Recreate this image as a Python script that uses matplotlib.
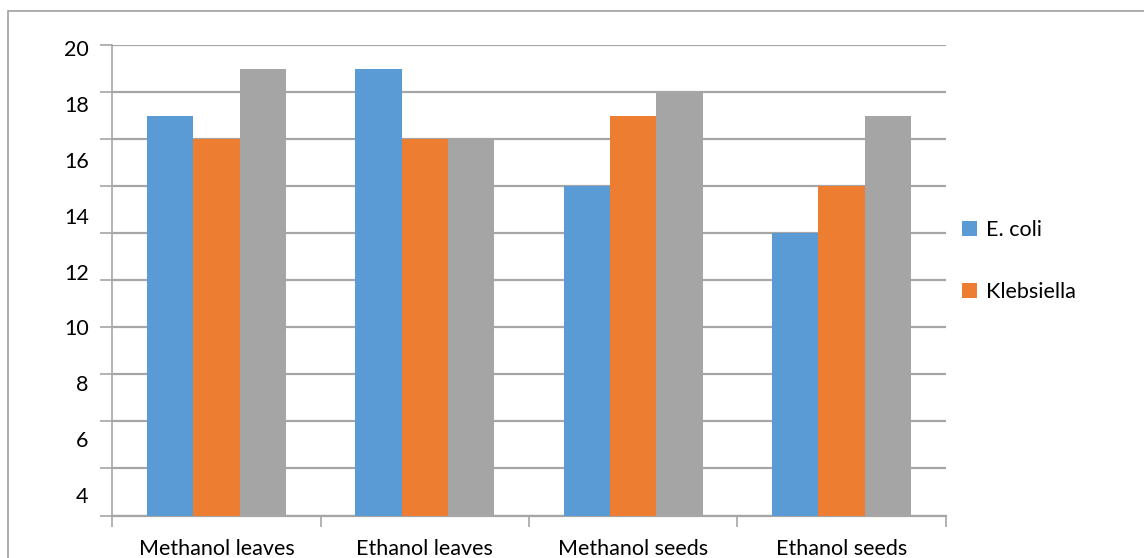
import matplotlib
matplotlib.use("Agg")
import matplotlib.pyplot as plt
from matplotlib.patches import Rectangle
import numpy as np

categories = ["Methanol leaves", "Ethanol leaves", "Methanol seeds", "Ethanol seeds"]
ecoli = [17, 19, 14, 12]
klebsiella = [16, 16, 17, 14]
third_series = [19, 16, 18, 17]
axis_labels = [4, 6, 8, 10, 12, 14, 16, 18, 20]

BLUE = "#5B9BD5"
ORANGE = "#ED7D31"
GRAY = "#A5A5A5"
GRID = "#A6A6A6"
FONT = "Lato"
FS = 15.5

W, H = 1144, 558
fig = plt.figure(figsize=(W / 100, H / 100), dpi=100)
ax = fig.add_axes([112.3 / W, 1 - 515.5 / H, (945.7 - 112.3) / W, (515.5 - 45) / H])

x = np.arange(len(categories))
bw = 1 / 4.5
ax.bar(x - bw, ecoli, bw, color=BLUE, label="E. coli", zorder=3)
ax.bar(x, klebsiella, bw, color=ORANGE, label="Klebsiella", zorder=3)
ax.bar(x + bw, third_series, bw, color=GRAY, label="_nolegend_", zorder=3)

ax.set_xlim(-0.5, len(categories) - 0.5)
ax.set_ylim(0, 20)

# horizontal gridlines every 2 units with short outward ticks on the left
ax.set_yticks(np.arange(0, 21, 2))
ax.yaxis.grid(True, color=GRID, linewidth=1.6, zorder=0)
ax.tick_params(axis="y", length=9, width=1.2, color=GRID, labelleft=False)

# category boundary ticks plus centred category labels
ax.set_xticks(np.arange(-0.5, len(categories), 1.0))
ax.tick_params(axis="x", which="major", length=8, width=1.2, color=GRID, labelbottom=False)
ax.set_xticks(x, minor=True)
ax.set_xticklabels(categories, minor=True, fontsize=FS, family=FONT, color="#000000")
ax.tick_params(axis="x", which="minor", length=0, pad=17)

for side in ["top", "right"]:
    ax.spines[side].set_visible(False)
ax.spines["left"].set_color(GRID)
ax.spines["left"].set_linewidth(1.2)
ax.spines["bottom"].set_color(GRID)
ax.spines["bottom"].set_linewidth(1.6)

# value labels on the left side
ax2 = ax.twinx()
ax2.set_ylim(3.267, 20.11)
ax2.set_yticks(axis_labels)
ax2.set_yticklabels([str(v) for v in axis_labels], fontsize=FS, family=FONT)
ax2.yaxis.tick_left()
ax2.tick_params(axis="y", length=0, pad=17)
for s in ax2.spines.values():
    s.set_visible(False)

leg = ax.legend(loc="center left", bbox_to_anchor=(962 / W, 1 - 261 / H),
                bbox_transform=fig.transFigure, frameon=False,
                prop={"family": FONT, "size": FS}, handlelength=0.7,
                handleheight=0.7, handletextpad=0.4, labelspacing=1.95,
                borderaxespad=0, borderpad=0)

# outer chart frame
fig.patches.append(Rectangle((8 / W, -0.2), 1.5, 1.2 - 11 / H, transform=fig.transFigure,
                             fill=False, edgecolor="#A0A0A0", linewidth=1.2))

fig.savefig("out.png", dpi=100)
